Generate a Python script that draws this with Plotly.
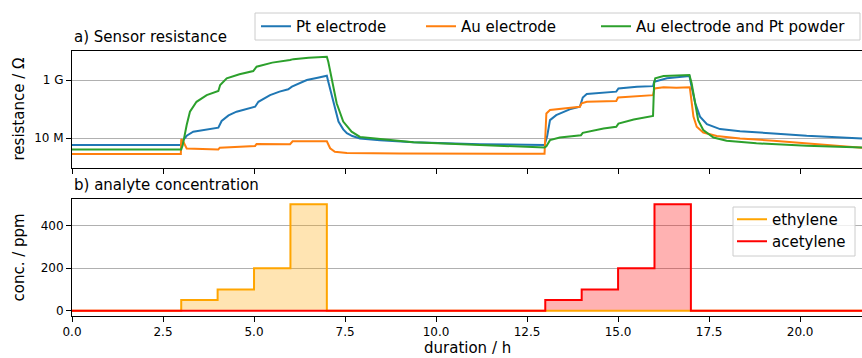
import plotly.graph_objects as go

# ---------------- data ----------------
# a) sensor resistance: time in h, log10(resistance / ohm)
pt_t = [0, 2.99, 3.06, 3.15, 3.33, 3.7, 4.02, 4.11, 4.3, 4.52, 4.8, 5.03, 5.12, 5.44, 5.7, 5.94,
        6.04, 6.45, 6.75, 7.0, 7.04, 7.18, 7.32, 7.45, 7.55, 7.7, 7.91, 8.46, 9.38, 11.2, 12.98,
        13.05, 13.13, 13.3, 13.67, 13.95, 14.03, 14.14, 14.6, 14.95, 15.01, 15.52, 15.96, 15.99,
        16.34, 16.96, 17.02, 17.12, 17.25, 17.44, 17.8, 18.35, 19.27, 20.18, 21.7]
pt_logr = [6.76, 6.76, 6.94, 7.08, 7.22, 7.30, 7.36, 7.59, 7.78, 7.91, 8.0, 8.08, 8.25, 8.48, 8.60, 8.68,
           8.77, 9.0, 9.08, 9.15, 8.94, 8.2, 7.57, 7.3, 7.17, 7.07, 6.99, 6.93, 6.86, 6.79, 6.76,
           7.05, 7.62, 7.79, 7.99, 8.08, 8.40, 8.52, 8.58, 8.60, 8.71, 8.77, 8.79, 8.94,
           9.06, 9.14, 8.77, 8.2, 7.74, 7.48, 7.31, 7.24, 7.16, 7.08, 6.99]

au_t = [0, 2.99, 3.0, 3.05, 3.15, 4.02, 4.06, 5.03, 5.07, 5.99, 6.06, 7.0, 7.09, 7.22, 7.55, 9.0,
        12.98, 13.03, 13.13, 13.95, 14.0, 14.14, 14.95, 15.0, 15.96, 16.0, 16.25, 16.6, 16.97,
        17.07, 17.16, 17.34, 17.71, 18.35, 19.27, 20.18, 21.7]
au_logr = [6.45, 6.45, 6.96, 6.9, 6.64, 6.61, 6.67, 6.73, 6.80, 6.79, 6.89, 6.89, 6.65, 6.53, 6.49, 6.47,
           6.46, 7.85, 7.97, 8.08, 8.20, 8.25, 8.28, 8.40, 8.48, 8.71, 8.75, 8.73, 8.75,
           7.74, 7.39, 7.19, 7.07, 6.99, 6.91, 6.82, 6.67]

aupt_t = [0, 3.0, 3.04, 3.09, 3.15, 3.24, 3.42, 3.7, 4.02, 4.07, 4.25, 4.6, 4.98, 5.07, 5.5, 5.99, 6.08,
          6.5, 7.0, 7.04, 7.13, 7.27, 7.45, 7.68, 7.91, 8.46, 9.38, 11.2, 12.98, 13.03, 13.13, 13.4,
          13.98, 14.03, 14.6, 14.95, 15.01, 15.43, 15.96, 15.99, 16.02, 16.25, 16.96, 17.02, 17.12,
          17.2, 17.34, 17.62, 17.98, 18.8, 20.18, 21.7]
aupt_logr = [6.61, 6.61, 6.75, 7.1, 7.45, 7.91, 8.25, 8.48, 8.62, 8.83, 9.06, 9.2, 9.31, 9.46, 9.6, 9.69, 9.72,
             9.77, 9.80, 9.63, 9.06, 8.2, 7.57, 7.22, 7.04, 6.97, 6.86, 6.76, 6.68, 6.72, 6.93, 7.02,
             7.10, 7.18, 7.33, 7.39, 7.50, 7.64, 7.76, 8.89, 9.06, 9.14, 9.17, 8.89, 8.14,
             7.62, 7.28, 7.02, 6.91, 6.82, 6.74, 6.68]

# b) analyte concentration (ppm), step changes at these times (h)
conc_t = [0, 3, 4, 5, 6, 7, 13, 14, 15, 16, 17, 21.7]
ethylene_ppm = [0, 50, 100, 200, 500, 0, 0, 0, 0, 0, 0, 0]
acetylene_ppm = [0, 0, 0, 0, 0, 0, 50, 100, 200, 500, 0, 0]

res_ticks = [1e7, 1e9]
res_ticktext = ["10 M", "1 G"]
conc_ticks = [0, 200, 400]

# ---------------- figure ----------------
FONT = "DejaVu Sans"
W, H = 862, 358
ML, MR, MT, MB = 72, 0, 51, 42
PW, PH = W - ML - MR, H - MT - MB


def px_x(px):
    return (px - ML) / PW


def px_y(py):
    return (H - MB - py) / PH


fig = go.Figure()

series = [
    ("Pt electrode", pt_t, pt_logr, "#1f77b4", "legend"),
    ("Au electrode", au_t, au_logr, "#ff7f0e", "legend3"),
    ("Au electrode and Pt powder", aupt_t, aupt_logr, "#2ca02c", "legend4"),
]
for name, t, lr, col, lg in series:
    fig.add_trace(go.Scatter(
        x=t, y=[10 ** v for v in lr], mode="lines", name=name,
        line=dict(color=col, width=2), xaxis="x2", yaxis="y2", legend=lg))

# fills (no legend)
fig.add_trace(go.Scatter(
    x=conc_t, y=ethylene_ppm, mode="lines", line_shape="hv", line=dict(width=0),
    fill="tozeroy", fillcolor="rgba(255,165,0,0.3)", showlegend=False, hoverinfo="skip",
    xaxis="x", yaxis="y"))
fig.add_trace(go.Scatter(
    x=conc_t, y=acetylene_ppm, mode="lines", line_shape="hv", line=dict(width=0),
    fill="tozeroy", fillcolor="rgba(255,0,0,0.3)", showlegend=False, hoverinfo="skip",
    xaxis="x", yaxis="y"))
# step lines
fig.add_trace(go.Scatter(
    x=conc_t, y=ethylene_ppm, mode="lines", name="ethylene", line_shape="hv",
    line=dict(color="orange", width=2), xaxis="x", yaxis="y", legend="legend5"))
fig.add_trace(go.Scatter(
    x=conc_t, y=acetylene_ppm, mode="lines", name="acetylene", line_shape="hv",
    line=dict(color="red", width=2), xaxis="x", yaxis="y", legend="legend6"))

top_dom = [0.5585, 1.0]
bot_dom = [0.0, 0.4415]
axis_common = dict(showline=True, linecolor="black", linewidth=1, mirror=True,
                   ticks="outside", ticklen=5, tickwidth=1, tickcolor="black",
                   tickfont=dict(family=FONT, size=12, color="black"), zeroline=False)

leg_font = dict(family=FONT, size=15, color="black")


def one_legend(line_start_px, center_y_px):
    return dict(orientation="v", x=px_x(line_start_px - 6), xanchor="left",
                y=px_y(center_y_px), yanchor="middle",
                bgcolor="rgba(0,0,0,0)", borderwidth=0, font=leg_font)


fig.update_layout(
    width=W, height=H,
    margin=dict(l=ML, r=MR, t=MT, b=MB, autoexpand=False),
    paper_bgcolor="white", plot_bgcolor="white",
    font=dict(family=FONT, size=15, color="black"),
    xaxis=dict(domain=[0, 1], anchor="y", range=[0, 21.7], tick0=0, dtick=2.5,
               tickformat=".1f", showgrid=False, **axis_common),
    yaxis=dict(domain=bot_dom, anchor="x", range=[-25, 525], tickvals=conc_ticks,
               showgrid=True, gridcolor="#b0b0b0", gridwidth=1, **axis_common),
    xaxis2=dict(domain=[0, 1], anchor="y2", matches="x", range=[0, 21.7], tick0=0, dtick=2.5,
                showticklabels=False, showgrid=False, **axis_common),
    yaxis2=dict(domain=top_dom, anchor="x2", type="log", range=[5.97, 10.0],
                tickvals=res_ticks, ticktext=res_ticktext,
                showgrid=True, gridcolor="#b0b0b0", gridwidth=1, **axis_common),
    legend=one_legend(262, 26.5),
    legend3=one_legend(427, 26.5),
    legend4=one_legend(602, 26.5),
    legend5=one_legend(738, 219.5),
    legend6=one_legend(738, 241.5),
    showlegend=True,
)

# legend frames
for x0, x1, y0, y1 in [(255, 860, 13, 40), (733, 855, 207, 256)]:
    fig.add_shape(type="rect", xref="paper", yref="paper",
                  x0=px_x(x0), x1=px_x(x1), y0=px_y(y1), y1=px_y(y0),
                  line=dict(color="#cccccc", width=1), fillcolor="rgba(255,255,255,0.8)",
                  layer="above")

annos = [
    dict(text="a) Sensor resistance", x=0, y=top_dom[1], xanchor="left", yanchor="bottom", yshift=3),
    dict(text="b) analyte concentration", x=0, y=bot_dom[1], xanchor="left", yanchor="bottom", yshift=3),
    dict(text="resistance / Ω", x=px_x(19), y=sum(top_dom) / 2, xanchor="center", yanchor="middle", textangle=-90),
    dict(text="conc. / ppm", x=px_x(19), y=sum(bot_dom) / 2, xanchor="center", yanchor="middle", textangle=-90),
    dict(text="duration / h", x=0.5, y=px_y(348), xanchor="center", yanchor="middle"),
]
for a in annos:
    fig.add_annotation(xref="paper", yref="paper", showarrow=False,
                       font=dict(family=FONT, size=15, color="black"), **a)

fig.write_html("out.html")
